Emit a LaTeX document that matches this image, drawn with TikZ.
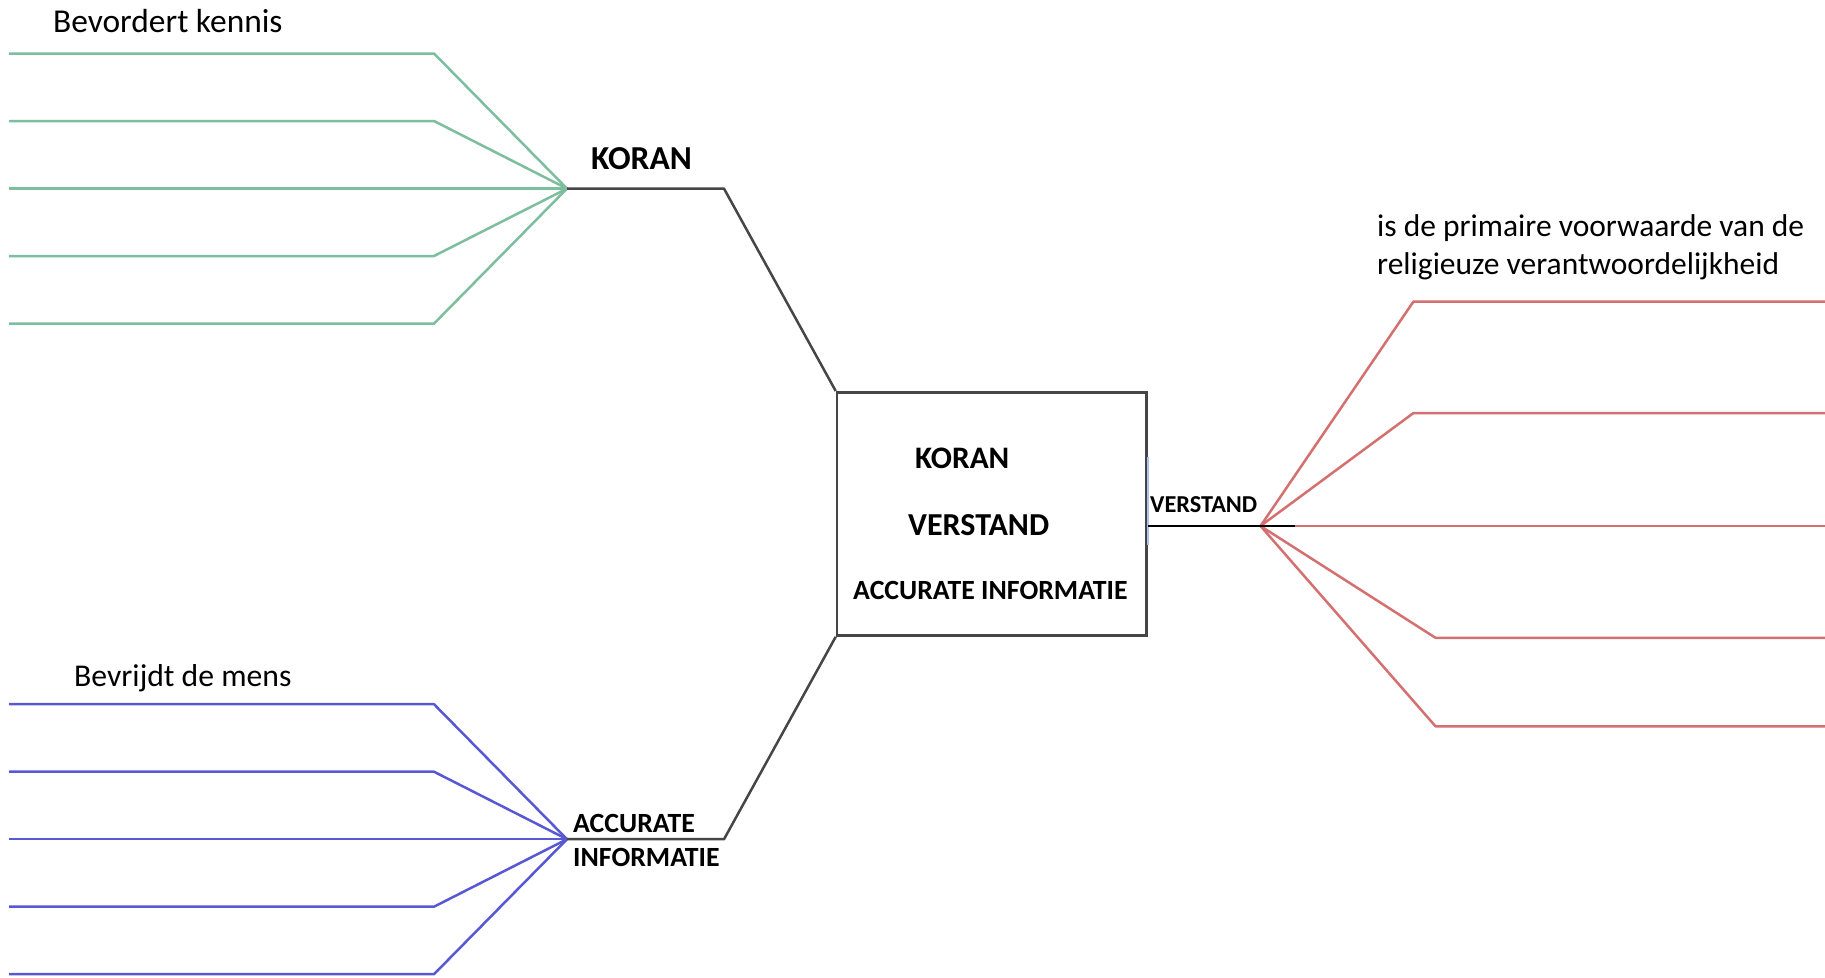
\documentclass[tikz,border=0pt]{standalone}
\usepackage{fontspec}
\setmainfont{Carlito}
\usetikzlibrary{calc}
\definecolor{lgreen}{RGB}{125,190,158}
\definecolor{lred}{RGB}{212,112,112}
\definecolor{lblue}{RGB}{88,88,212}
\definecolor{dgray}{RGB}{70,70,70}
\definecolor{paleblue}{RGB}{170,195,235}
\tikzset{
  gline/.style={draw=lgreen,line width=2.5pt,line join=round},
  rline/.style={draw=lred,line width=2.5pt,line join=round},
  bline/.style={draw=lblue,line width=2.5pt,line join=round},
  kline/.style={draw=dgray,line width=2.5pt,line join=round},
  lbl/.style={anchor=base west,inner sep=0pt,text=black},
}
\newcommand{\fs}[1]{\fontsize{#1}{#1}\selectfont}
\begin{document}
\begin{tikzpicture}[x=1pt,y=-1pt]
\useasboundingbox[fill=white] (0,0) rectangle (1825,977);

% central box
\node[draw=dgray,line width=2.5pt,minimum width=309.6pt,minimum height=243.3pt,inner sep=0pt,anchor=north west] (box) at (835.7,391) {};
\draw[paleblue,line width=2.5pt] ($(box.north east)+(0,66)$) -- ($(box.north east)+(0,154)$);
\node[lbl,font=\fs{31.3}\bfseries] (bk) at (915,468) {KORAN};
\node[lbl,font=\fs{32}\bfseries] (bv) at (908,535) {VERSTAND};
\node[lbl,font=\fs{27.8}\bfseries] (ba) at (853,599) {ACCURATE INFORMATIE};

% green branch
\coordinate (gh) at (567,188.6);
\coordinate (gk) at (724,188.6);
\foreach \y [count=\i] in {53.5,121,188.6,256,323.6}{
  \coordinate (gL\i) at (9,\y);
  \coordinate (gB\i) at (434,\y);
  \draw[gline] (gL\i) -- (gB\i) -- (gh);
}
\draw[kline] (gh) -- (gk) -- (box.north west);
\node[lbl,font=\fs{33.5}\bfseries] (kor) at (591,169) {KORAN};
\node[lbl,font=\fs{33.4}] (bev) at (53,32) {Bevordert kennis};

% blue branch
\coordinate (bh) at (567,839.2);
\coordinate (bkk) at (724,839.2);
\foreach \y [count=\i] in {704.2,771.7,839.2,906.7,974.2}{
  \coordinate (bL\i) at (9,\y);
  \coordinate (bB\i) at (434,\y);
  \draw[bline] (bL\i) -- (bB\i) -- (bh);
}
\draw[kline] (bh) -- (bkk) -- (box.south west);
\node[lbl,font=\fs{27.8}\bfseries] (acc) at (573,832.5) {ACCURATE};
\node[lbl,font=\fs{27.8}\bfseries] (inf) at (573,866.5) {INFORMATIE};
\node[lbl,font=\fs{31.7}] (bvr) at (74,686.5) {Bevrijdt de mens};

% red branch
\coordinate (rh) at (1260.5,526);
\coordinate (rk) at (1295,526);
\coordinate (rs) at (box.east |- rh);
\foreach \y/\x [count=\i] in {301.5/1413.5,413/1413.5,526/1260.5,637.8/1435.5,726.3/1435.5}{
  \coordinate (rB\i) at (\x,\y);
  \coordinate (rR\i) at (1825,\y);
  \draw[rline] (rh) -- (rB\i) -- (rR\i);
}
\draw[draw=black,line width=2.5pt] (rs) -- (rh) -- (rk);
\node[lbl,font=\fs{24.3}\bfseries] (ver) at (1150,512.5) {VERSTAND};
\node[lbl,font=\fs{31.5}] (rt1) at (1377,236) {is de primaire voorwaarde van de};
\node[lbl,font=\fs{31.5}] (rt2) at (1377,274) {religieuze verantwoordelijkheid};
\end{tikzpicture}
\end{document}
